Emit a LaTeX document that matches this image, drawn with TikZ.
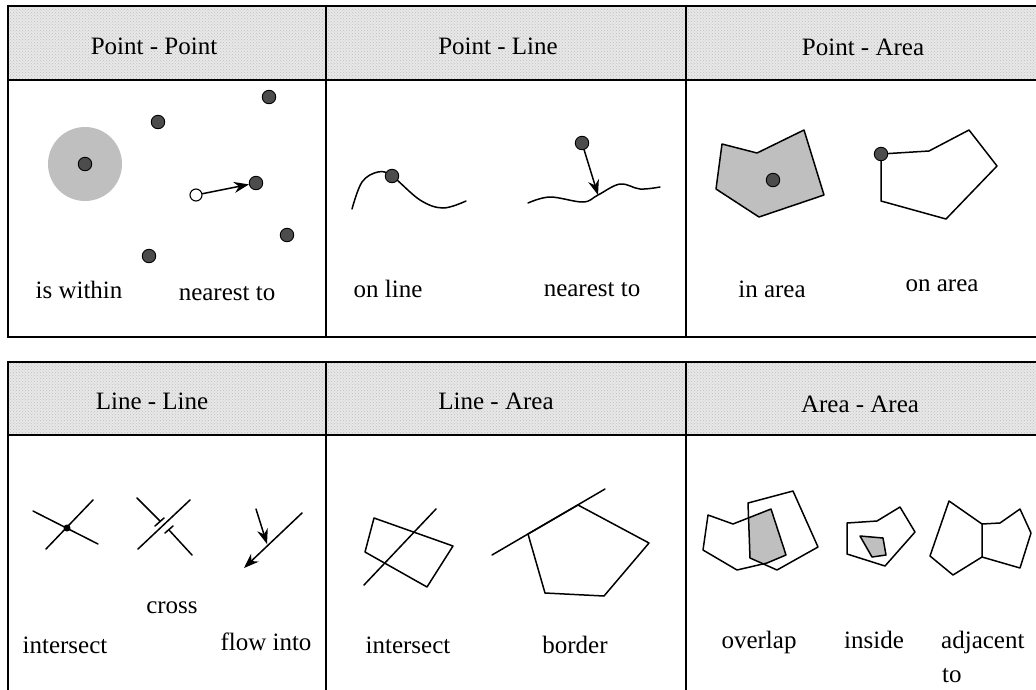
\documentclass[tikz,border=0pt]{standalone}
\usepackage{fontspec}
\setmainfont{Liberation Serif}
\usetikzlibrary{arrows.meta,patterns}
\begin{document}
\begin{tikzpicture}[x=1pt,y=-1pt,
  border/.style={line width=1.8pt},
  hdrfill/.style={fill=black!9},
  hdrdots/.style={pattern=crosshatch dots, pattern color=black!25},
  shp/.style={line width=1.5pt, line join=round, line cap=round},
  pt/.style={circle, draw=black, line width=0.9pt, fill=black!70, minimum size=13.5pt, inner sep=0pt},
  opt/.style={circle, draw=black, line width=1.1pt, fill=white, minimum size=12pt, inner sep=0pt},
  lbl/.style={font=\fontsize{25}{30}\selectfont, anchor=base, inner sep=0pt},
  arr/.style={shp, -{Stealth[length=15pt,width=11pt]}},
  shade/.style={fill=black!25}]
\useasboundingbox (0,0) rectangle (1036,689);
\clip (0,0) rectangle (1036,689);

% ---------- tables ----------
\fill[hdrfill] (8,6) rectangle (1045,80);
\fill[hdrdots] (8,6) rectangle (1045,80);
\fill[hdrfill] (8,362) rectangle (1045,435);
\fill[hdrdots] (8,362) rectangle (1045,435);
\draw[border] (8,6) rectangle (1045,337);
\draw[border] (8,80) -- (1045,80);
\draw[border] (326,6) -- (326,337);
\draw[border] (686,6) -- (686,337);
\draw[border] (8,700) -- (8,362) -- (1045,362);
\draw[border] (8,435) -- (1045,435);
\draw[border] (326,362) -- (326,700);
\draw[border] (686,362) -- (686,700);

% headers
\node[lbl] (h1) at (154,54) {Point - Point};
\node[lbl] (h2) at (498,54) {Point - Line};
\node[lbl] (h3) at (863,55) {Point - Area};
\node[lbl] (h4) at (152,409) {Line - Line};
\node[lbl] (h5) at (496,409) {Line - Area};
\node[lbl] (h6) at (860,412) {Area - Area};

% ---------- Point - Point ----------
\node[circle, shade, minimum size=74pt, inner sep=0pt] (zone) at (85,164) {};
\node[pt] (p0) at (85,164) {};
\node[pt] (p1) at (158,122) {};
\node[pt] (p2) at (269,97) {};
\node[pt] (p3) at (256,183) {};
\node[pt] (p4) at (287,235) {};
\node[pt] (p5) at (149,256) {};
\node[opt] (o1) at (196,195) {};
\draw[arr] (o1) -- (p3);
\node[lbl] (t1) at (79,298) {is within};
\node[lbl] (t2) at (227,300) {nearest to};

% ---------- Point - Line ----------
\draw[shp] plot[smooth, tension=0.6] coordinates {(352,209) (362,182) (378,172) (392,176) (420,200) (443,208) (466,201)};
\node[pt] (l1) at (392,176) {};
\draw[shp] plot[smooth, tension=0.6] coordinates {(528,203) (550,197) (583,202) (598,195) (620,184) (640,189) (660,187)};
\node[pt] (l2) at (582,143) {};
\coordinate (l3) at (598,195);
\draw[arr] (l2) -- (l3);
\node[lbl] (t3) at (388,297) {on line};
\node[lbl] (t4) at (592,296) {nearest to};

% ---------- Point - Area ----------
\draw[shp, shade] (722,144) -- (757,153) -- (804,130) -- (824,195) -- (759,217) -- (716,189) -- cycle;
\node[pt] (a1) at (773,180) {};
\draw[shp] (881,154) -- (929,151) -- (969,130) -- (997,166) -- (946,219) -- (881,201) -- cycle;
\node[pt] (a2) at (881,154) {};
\node[lbl] (t5) at (772,297) {in area};
\node[lbl] (t6) at (942,291) {on area};

% ---------- Line - Line ----------
\coordinate (i1) at (33,511);
\coordinate (i2) at (98,544);
\coordinate (i3) at (46,549);
\coordinate (i4) at (93,500);
\draw[shp] (i1) -- (i2);
\draw[shp] (i3) -- (i4);
\node[circle, fill=black, minimum size=7pt, inner sep=0pt] (ix) at (67,528) {};

\coordinate (c1) at (138,549);
\coordinate (c2) at (190,500);
\draw[shp] (c1) -- (c2);
\coordinate (c3) at (137,498);
\coordinate (c4) at (160,521);
\coordinate (c5) at (169,530);
\coordinate (c6) at (192,555);
\draw[shp] (c3) -- (c4);
\draw[shp] (c5) -- (c6);
\coordinate (k1) at (155,526);
\coordinate (k2) at (164,518);
\coordinate (k3) at (165,533);
\coordinate (k4) at (173,526);
\draw[shp] (k1) -- (k2);
\draw[shp] (k3) -- (k4);

\coordinate (f1) at (302,513);
\coordinate (f2) at (244,568);
\draw[arr] (f1) -- (f2);
\coordinate (f3) at (256,509);
\coordinate (f4) at (267,544);
\draw[arr] (f3) -- (f4);
\node[lbl] (t7) at (172,613) {cross};
\node[lbl] (t8) at (65,653) {intersect};
\node[lbl] (t9) at (266,650) {flow into};

% ---------- Line - Area ----------
\draw[shp] (374,518) -- (453,546) -- (427,587) -- (365,552) -- cycle;
\coordinate (m1) at (436,509);
\coordinate (m2) at (364,585);
\draw[shp] (m1) -- (m2);
\draw[shp] (528,534) -- (578,505) -- (649,543) -- (604,596) -- (545,593) -- cycle;
\coordinate (m3) at (492,555);
\coordinate (m4) at (605,489);
\draw[shp] (m3) -- (m4);
\node[lbl] (t10) at (408,653) {intersect};
\node[lbl] (t11) at (575,653) {border};

% ---------- Area - Area ----------
\begin{scope}
  \clip (748,503) -- (793,491) -- (818,547) -- (777,570) -- (750,558) -- cycle;
  \fill[shade] (708,515) -- (733,524) -- (771,509) -- (786,555) -- (767,563) -- (737,570) -- (703,550) -- cycle;
\end{scope}
\draw[shp] (708,515) -- (733,524) -- (771,509) -- (786,555) -- (767,563) -- (737,570) -- (703,550) -- cycle;
\draw[shp] (748,503) -- (793,491) -- (818,547) -- (777,570) -- (750,558) -- cycle;

\draw[shp] (847,523) -- (877,521) -- (900,507) -- (915,532) -- (885,566) -- (847,554) -- cycle;
\draw[shp, shade] (860,536) -- (883,538) -- (886,555) -- (872,557) -- cycle;

\draw[shp] (982,524) -- (949,501) -- (930,556) -- (953,575) -- (982,557) -- cycle;
\draw[shp] (982,524) -- (1000,523) -- (1020,509) -- (1031,533) -- (1020,568) -- (982,557);

\node[lbl] (t12) at (759,648) {overlap};
\node[lbl] (t13) at (874,648) {inside};
\node[lbl, anchor=base west] (t14) at (941,648) {adjacent};
\node[lbl, anchor=base west] (t15) at (942,682) {to};
\end{tikzpicture}
\end{document}
